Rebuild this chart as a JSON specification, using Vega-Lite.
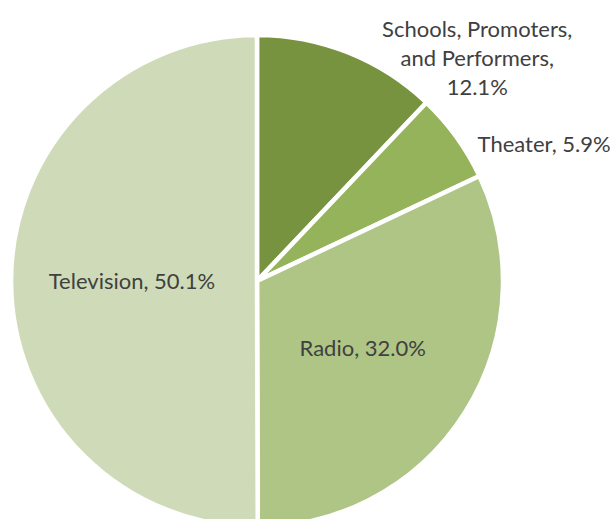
{
  "$schema": "https://vega.github.io/schema/vega-lite/v6.json",
  "width": 514,
  "height": 476,
  "autosize": {"type": "none"},
  "padding": {"left": 0, "top": 43, "right": 102, "bottom": 0},
  "background": "white",
  "config": {"view": {"stroke": null}},
  "data": {
    "values": [
      {"category": "Schools, Promoters, and Performers", "value": 12.1, "label": "Schools, Promoters,\nand Performers,\n12.1%"},
      {"category": "Theater", "value": 5.9, "label": "Theater, 5.9%"},
      {"category": "Radio", "value": 32.0, "label": "Radio, 32.0%"},
      {"category": "Television", "value": 50.1, "label": "Television, 50.1%"}
    ]
  },
  "transform": [{"window": [{"op": "row_number", "as": "idx"}]}],
  "encoding": {
    "theta": {"field": "value", "type": "quantitative", "stack": true},
    "order": {"field": "idx", "type": "quantitative"},
    "detail": {"field": "category", "type": "nominal"}
  },
  "layer": [
    {
      "mark": {"type": "arc", "outerRadius": 246, "stroke": "white", "strokeWidth": 4.5},
      "encoding": {
        "color": {
          "field": "category",
          "type": "nominal",
          "legend": null,
          "scale": {
            "domain": ["Schools, Promoters, and Performers", "Theater", "Radio", "Television"],
            "range": ["#78933F", "#94B35A", "#AEC586", "#CFDBB8"]
          }
        }
      }
    },
    {
      "mark": {"type": "text", "radius": 125, "dy": 1, "font": "Lato", "fontSize": 22, "fill": "#404040", "align": "center", "baseline": "middle"},
      "encoding": {
        "text": {
          "condition": {"test": "datum.category === 'Radio' || datum.category === 'Television'", "field": "label"},
          "value": ""
        }
      }
    },
    {
      "mark": {"type": "text", "radius": 300, "dx": 109, "dy": 28, "font": "Lato", "fontSize": 22, "lineHeight": 29, "lineBreak": "\n", "fill": "#404040", "align": "center", "baseline": "middle"},
      "encoding": {
        "text": {
          "condition": {"test": "datum.category === 'Schools, Promoters, and Performers'", "field": "label"},
          "value": ""
        }
      }
    },
    {
      "mark": {"type": "text", "radius": 300, "dx": 44, "dy": 40, "font": "Lato", "fontSize": 22, "fill": "#404040", "align": "center", "baseline": "middle"},
      "encoding": {
        "text": {
          "condition": {"test": "datum.category === 'Theater'", "field": "label"},
          "value": ""
        }
      }
    }
  ]
}
